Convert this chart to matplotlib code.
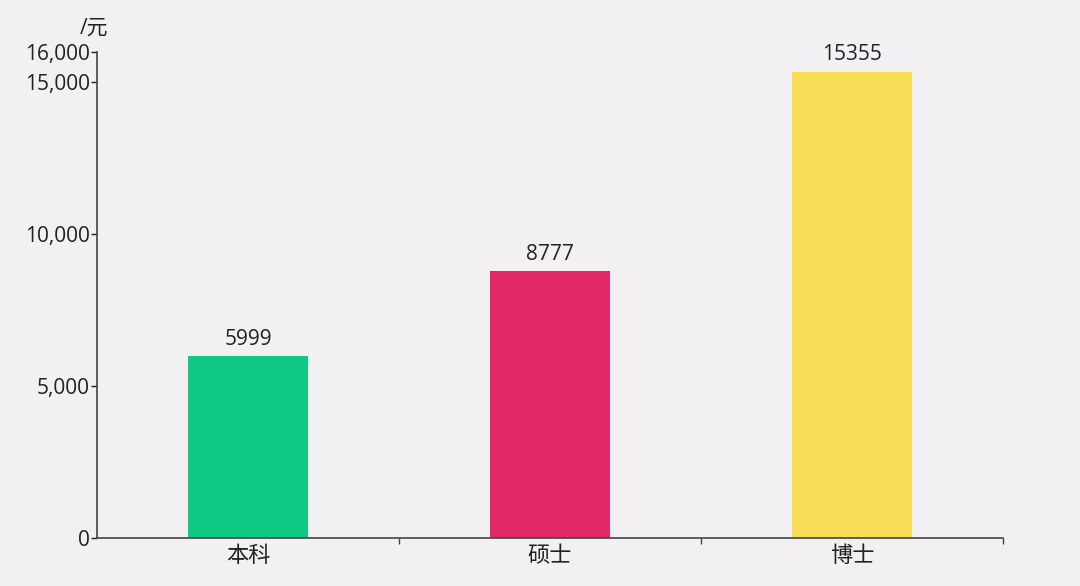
import numpy as np
import matplotlib.pyplot as plt
from matplotlib.ticker import FuncFormatter

plt.rcParams['font.family'] = ['Open Sans', 'Noto Sans CJK SC', 'DejaVu Sans']

# data
degrees = ['本科', '硕士', '博士']
salary = [5999, 8777, 15355]
bar_colors = ['#10c985', '#e1296a', '#f7dc55']
ytick_vals = [0, 5000, 10000, 15000, 16000]

bg = '#f2f0f2'
fig = plt.figure(figsize=(10.8, 5.86), dpi=100, facecolor=bg)
ax = fig.add_axes([0.0898, 0.0819, 0.8389, 0.8294], facecolor=bg)

x = np.arange(len(degrees))
bars = ax.bar(x, salary, width=0.4, color=bar_colors)

for xi, v in zip(x, salary):
    ax.text(xi, v + 200, str(v), ha='center', va='bottom', fontsize=15, color='#222222')

ax.set_xlim(-0.5, 2.5)
ax.set_ylim(0, 16000)
ax.set_yticks(ytick_vals)
ax.yaxis.set_major_formatter(FuncFormatter(lambda v, p: f'{int(v):,}'))
ax.tick_params(axis='y', length=4, width=1, pad=1, labelsize=15, colors='#222222')

# category labels centred, tick marks on the boundaries
ax.set_xticks(x)
ax.set_xticklabels(degrees, fontsize=16, color='#222222')
ax.tick_params(axis='x', which='major', length=0, pad=6)
ax.set_xticks([0.5, 1.5, 2.5], minor=True)
ax.tick_params(axis='x', which='minor', length=4, width=1, color='#444444')

for s in ['top', 'right']:
    ax.spines[s].set_visible(False)
for s in ['left', 'bottom']:
    ax.spines[s].set_color('#444444')
    ax.spines[s].set_linewidth(1.2)

fig.text(0.074, 0.952, '/元', fontsize=15, color='#222222', va='center')

fig.savefig('out.png', dpi=100, facecolor=bg)
